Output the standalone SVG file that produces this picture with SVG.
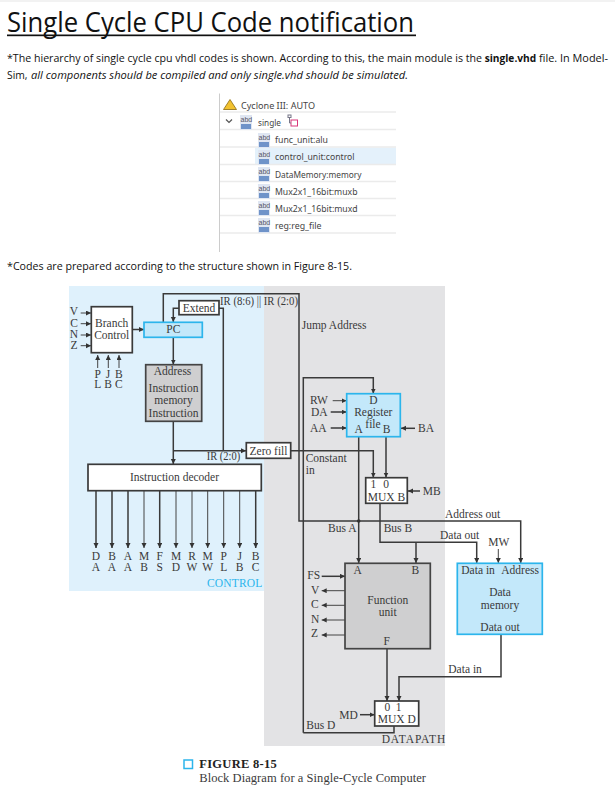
<svg xmlns="http://www.w3.org/2000/svg" width="615" height="791" viewBox="0 0 615 791">
<style>
.t{font-family:"Liberation Serif","Times New Roman",serif;font-size:11.5px;fill:#3a3a3a}
.m{text-anchor:middle}
.d{font-family:"Open Sans","Noto Sans",sans-serif;fill:#111}
.p{font-family:"Noto Sans","Open Sans",sans-serif;font-size:9.500px;fill:#444}
.l{fill:none;stroke:#3a3a3a;stroke-width:1.500}
.a{fill:none;stroke:#444;stroke-width:1;marker-end:url(#ar)}
.f{fill:none;stroke:#3a3a3a;stroke-width:1.500;marker-end:url(#ar)}
.b{fill:#fff;stroke:#3a3a3a;stroke-width:1.700}
.g{fill:#cfcfd0;stroke:#444;stroke-width:1.700}
.c{fill:#c3e8fa;stroke:#2cb5ec;stroke-width:1.700}
.s{stroke:#ebebeb;stroke-width:1.500;fill:none}
.i{fill:#6f93c9}
.it{font-family:"Liberation Sans",sans-serif;font-size:7px;fill:#556}
</style>
<defs>
<marker id="ar" markerUnits="userSpaceOnUse" markerWidth="6" markerHeight="6" refX="5" refY="2.500" orient="auto"><path d="M0 0L5 2.500L0 5z" fill="#333"/></marker>
<g id="ic"><rect x="0" y="0" width="12" height="15" fill="#dfe6f2"/><rect class="i" x="1" y="9" width="10" height="5"/><text class="it" x="0.500" y="7">abd</text></g>
</defs>
<rect width="615" height="791" fill="#fff"/>
<rect x="0" y="0" width="615" height="2" fill="#f2f2f2"/>
<text class="d" x="7" y="32" font-size="28" textLength="407" lengthAdjust="spacingAndGlyphs">Single Cycle CPU Code notification</text>
<rect x="7" y="34.500" width="409" height="1.700" fill="#111"/>
<text class="d" x="7" y="62" font-size="11" textLength="475" lengthAdjust="spacingAndGlyphs">*The hierarchy of single cycle cpu vhdl codes is shown. According to this, the main module is the</text>
<text class="d" x="484.700" y="62" font-size="11" font-weight="700" textLength="51.500" lengthAdjust="spacingAndGlyphs">single.vhd</text>
<text class="d" x="539" y="62" font-size="11" textLength="69" lengthAdjust="spacingAndGlyphs">file. In Model-</text>
<text class="d" x="7" y="79" font-size="11" textLength="20.500" lengthAdjust="spacingAndGlyphs">Sim,</text>
<text class="d" x="31" y="79" font-size="11" font-style="italic" textLength="377" lengthAdjust="spacingAndGlyphs">all components should be compiled and only single.vhd should be simulated.</text>
<text class="d" x="7" y="270" font-size="11" textLength="345" lengthAdjust="spacingAndGlyphs">*Codes are prepared according to the structure shown in Figure 8-15.</text>
<g id="hierarchy">
<rect x="255" y="147.500" width="141" height="17" fill="#e4f1fb"/>
<path d="M219.500 93.500V252" stroke="#ccc" fill="none"/>
<path class="s" d="M220 112H396M220 129.500H396M220 147H396M220 164.500H396M220 181.500H396M220 198.500H396M220 215.500H396M220 233H396"/>
<path d="M223.500 109.500L230 99.500L236.500 109.500z" fill="#f2c230" stroke="#8a6a10" stroke-width=".8"/>
<path d="M226 119.500L229 122.500L232 119.500" fill="none" stroke="#555" stroke-width="1.200"/>
<use href="#ic" x="240" y="115"/>
<g fill="none" stroke-width="1"><rect x="291" y="120" width="6.500" height="6" stroke="#d9377a"/><rect x="288" y="115" width="3" height="2.500" stroke="#778"/><path d="M289.500 117.500V123H291" stroke="#778"/></g>
<use href="#ic" x="258" y="133"/><use href="#ic" x="258" y="150"/><use href="#ic" x="258" y="167"/><use href="#ic" x="258" y="184"/><use href="#ic" x="258" y="201"/><use href="#ic" x="258" y="218"/>
<text class="p" x="241" y="108.500" textLength="74" lengthAdjust="spacingAndGlyphs">Cyclone III: AUTO</text>
<text class="p" x="258" y="126" textLength="23" lengthAdjust="spacingAndGlyphs">single</text>
<text class="p" x="275" y="143" textLength="53" lengthAdjust="spacingAndGlyphs">func_unit:alu</text>
<text class="p" x="275" y="160" textLength="79.500" lengthAdjust="spacingAndGlyphs">control_unit:control</text>
<text class="p" x="275" y="177.500" textLength="86.500" lengthAdjust="spacingAndGlyphs">DataMemory:memory</text>
<text class="p" x="275" y="194.500" textLength="82.500" lengthAdjust="spacingAndGlyphs">Mux2x1_16bit:muxb</text>
<text class="p" x="275" y="211.500" textLength="82.500" lengthAdjust="spacingAndGlyphs">Mux2x1_16bit:muxd</text>
<text class="p" x="275" y="229" textLength="46.500" lengthAdjust="spacingAndGlyphs">reg:reg_file</text>
</g>
<rect x="69" y="286" width="195" height="305" fill="#dff1fc"/>
<rect x="264" y="286" width="181" height="460" fill="#e3e3e5"/>
<g id="connectors">
<path class="f" d="M163.300 322V293.700H299V521H520.700V563"/>
<path class="f" d="M179 308.300H173.300V322"/>
<path class="l" d="M219 308.300H223.300V450.700"/>
<path class="f" d="M173.300 337.500V364.500"/>
<path class="f" d="M173.300 421.500V464"/>
<path class="f" d="M173.300 450.700H246"/>
<path class="f" d="M132.500 329.500H144"/>
<path class="f" d="M290.500 450.700H373.300V477.500"/>
<path class="f" d="M303.300 732.700V377.700H373.300V393.500"/>
<path class="l" d="M303.300 732.700H394V726"/>
<path class="f" d="M358.700 437V563"/>
<circle cx="358.700" cy="521" r="1.800" fill="#333"/>
<path class="f" d="M386 437V477.500"/>
<path class="f" d="M380 503.500V542.300H476.700V563"/>
<path class="f" d="M416 542.300V563"/>
<path class="f" d="M387 649V701"/>
<path class="f" d="M501 634.500V676.700H399V701"/>
<path class="a" d="M498.300 549V563"/>
<path class="a" d="M80.700 313H91"/><path class="a" d="M80.700 323.700H91"/><path class="a" d="M80.700 335H91"/><path class="a" d="M80.700 345.700H91"/>
<path class="a" d="M97.700 368V355"/><path class="a" d="M108.300 368V355"/><path class="a" d="M119 368V355"/>
<path class="a" d="M332.700 400.700H346.500"/><path class="f" d="M330.700 412H346.500"/><path class="f" d="M330.700 428H346.500"/>
<path class="f" d="M415 428.300H401"/><path class="f" d="M420 491H408"/>
<path class="f" d="M321.700 576.300H345"/>
<path class="a" d="M345 590.700H321.700"/><path class="a" d="M345 605.300H321.700"/><path class="a" d="M345 620H321.700"/><path class="a" d="M345 635H321.700"/>
<path class="f" d="M360 714.700H374.500"/>
<path class="f" d="M96 491V548"/><path class="f" d="M112 491V548"/><path class="f" d="M128 491V548"/><path class="a" d="M144 491V548"/><path class="f" d="M159.700 491V548"/><path class="a" d="M176 491V548"/><path class="a" d="M192 491V548"/><path class="a" d="M207.700 491V548"/><path class="a" d="M223.700 491V548"/><path class="a" d="M239.700 491V548"/><path class="f" d="M255.700 491V548"/>
</g>
<g id="branch-control"><rect class="b" x="91.300" y="306.700" width="41" height="46"/><text class="t m" x="111.700" y="326.700">Branch</text><text class="t m" x="111.700" y="339">Control</text></g>
<g id="pc"><rect class="c" x="144" y="322.300" width="58.300" height="15"/><text class="t m" x="173.300" y="332.700">PC</text></g>
<g id="extend"><rect class="b" x="179" y="300.700" width="40" height="14"/><text class="t m" x="199" y="311.700">Extend</text></g>
<g id="instruction-memory"><rect class="g" x="145.700" y="364.700" width="56" height="56.600"/><text class="t m" x="172.500" y="374.700">Address</text><text class="t m" x="173.500" y="392">Instruction</text><text class="t m" x="173.500" y="404.300">memory</text><text class="t m" x="173.500" y="417.300">Instruction</text></g>
<g id="zero-fill"><rect class="b" x="246.300" y="442.700" width="44.400" height="15.600"/><text class="t m" x="268.500" y="454.500">Zero fill</text></g>
<g id="instruction-decoder"><rect class="b" x="88" y="464.300" width="173.300" height="26.400"/><text class="t m" x="174.500" y="480.700">Instruction decoder</text></g>
<g id="register-file"><rect class="c" x="346.700" y="393.700" width="53.600" height="43"/><text class="t m" x="373.300" y="403.700">D</text><text class="t m" x="373.300" y="415.700">Register</text><text class="t m" x="373" y="427.700">file</text><text class="t m" x="358.700" y="433.300">A</text><text class="t m" x="386.700" y="433.300">B</text></g>
<g id="mux-b"><rect class="b" x="365.700" y="477.700" width="41.600" height="25.600"/><text class="t m" x="373.300" y="488.300">1</text><text class="t m" x="386" y="488.300">0</text><text class="t m" x="386.500" y="501">MUX B</text></g>
<g id="function-unit"><rect class="g" x="345" y="563.300" width="85.300" height="85.400"/><text class="t m" x="357.700" y="574">A</text><text class="t m" x="415.300" y="574">B</text><text class="t m" x="387.700" y="603.700">Function</text><text class="t m" x="387.700" y="615.700">unit</text><text class="t m" x="386.700" y="645.300">F</text></g>
<g id="data-memory"><rect class="c" x="457.300" y="563.300" width="85" height="71"/><text class="t" x="461.300" y="574">Data in</text><text class="t" x="501.300" y="574">Address</text><text class="t m" x="500" y="596.300">Data</text><text class="t m" x="500" y="608.700">memory</text><text class="t m" x="500" y="630.700">Data out</text></g>
<g id="mux-d"><rect class="b" x="374.700" y="701" width="44" height="25"/><text class="t m" x="387.300" y="711.300">0</text><text class="t m" x="398.700" y="711.300">1</text><text class="t m" x="396.700" y="722.700">MUX D</text></g>
<g id="labels">
<text class="t m" x="74" y="315">V</text><text class="t m" x="74" y="326.700">C</text><text class="t m" x="74" y="338">N</text><text class="t m" x="74" y="349">Z</text>
<text class="t m" x="97.800" y="377.700">P</text><text class="t m" x="108" y="377.700">J</text><text class="t m" x="118.800" y="377.700">B</text>
<text class="t m" x="97.800" y="388">L</text><text class="t m" x="108" y="388">B</text><text class="t m" x="118.800" y="388">C</text>
<text class="t" x="220" y="305" textLength="78" lengthAdjust="spacingAndGlyphs">IR (8:6) || IR (2:0)</text>
<text class="t" x="206.700" y="460" textLength="33.500" lengthAdjust="spacingAndGlyphs">IR (2:0)</text>
<text class="t" x="301.700" y="329">Jump Address</text>
<text class="t" x="305.700" y="461.700">Constant</text><text class="t" x="305.700" y="473.700">in</text>
<text class="t" x="310" y="404">RW</text><text class="t" x="311" y="416">DA</text><text class="t" x="310" y="431.700">AA</text><text class="t" x="418" y="431.700">BA</text><text class="t" x="422.700" y="495">MB</text>
<text class="t" x="328" y="532.300">Bus A</text><text class="t" x="383.700" y="532.300">Bus B</text>
<text class="t" x="445" y="517.700">Address out</text><text class="t" x="440" y="538.700">Data out</text><text class="t" x="488.300" y="546">MW</text>
<text class="t" x="307.300" y="579">FS</text><text class="t" x="311" y="593.700">V</text><text class="t" x="311" y="608.300">C</text><text class="t" x="311" y="622.700">N</text><text class="t" x="311" y="637">Z</text>
<text class="t" x="448.300" y="673">Data in</text>
<text class="t" x="339.300" y="718.700">MD</text><text class="t" x="306.300" y="729">Bus D</text>
<text class="t" x="381.700" y="743.300" textLength="63.500">DATAPATH</text>
<text class="t" x="207" y="586.700" textLength="55.300" style="fill:#2cb5ec">CONTROL</text>
<g><text class="t m" x="96" y="560">D</text><text class="t m" x="112" y="560">B</text><text class="t m" x="128" y="560">A</text><text class="t m" x="144" y="560">M</text><text class="t m" x="159.700" y="560">F</text><text class="t m" x="176" y="560">M</text><text class="t m" x="192" y="560">R</text><text class="t m" x="207.700" y="560">M</text><text class="t m" x="223.700" y="560">P</text><text class="t m" x="239.700" y="560">J</text><text class="t m" x="255.700" y="560">B</text>
<text class="t m" x="96" y="570.700">A</text><text class="t m" x="112" y="570.700">A</text><text class="t m" x="128" y="570.700">A</text><text class="t m" x="144" y="570.700">B</text><text class="t m" x="159.700" y="570.700">S</text><text class="t m" x="176" y="570.700">D</text><text class="t m" x="192" y="570.700">W</text><text class="t m" x="207.700" y="570.700">W</text><text class="t m" x="223.700" y="570.700">L</text><text class="t m" x="239.700" y="570.700">B</text><text class="t m" x="255.700" y="570.700">C</text></g>
<rect x="184" y="760" width="8.500" height="8.500" fill="none" stroke="#2cb5ec" stroke-width="1.500"/>
<text class="t" x="199.300" y="768.300" font-weight="700" style="font-size:12.500px;fill:#222" textLength="77.400">FIGURE 8-15</text>
<text class="t" x="199.300" y="781.700" style="font-size:12.500px" textLength="226.700">Block Diagram for a Single-Cycle Computer</text>
</g>
</svg>
